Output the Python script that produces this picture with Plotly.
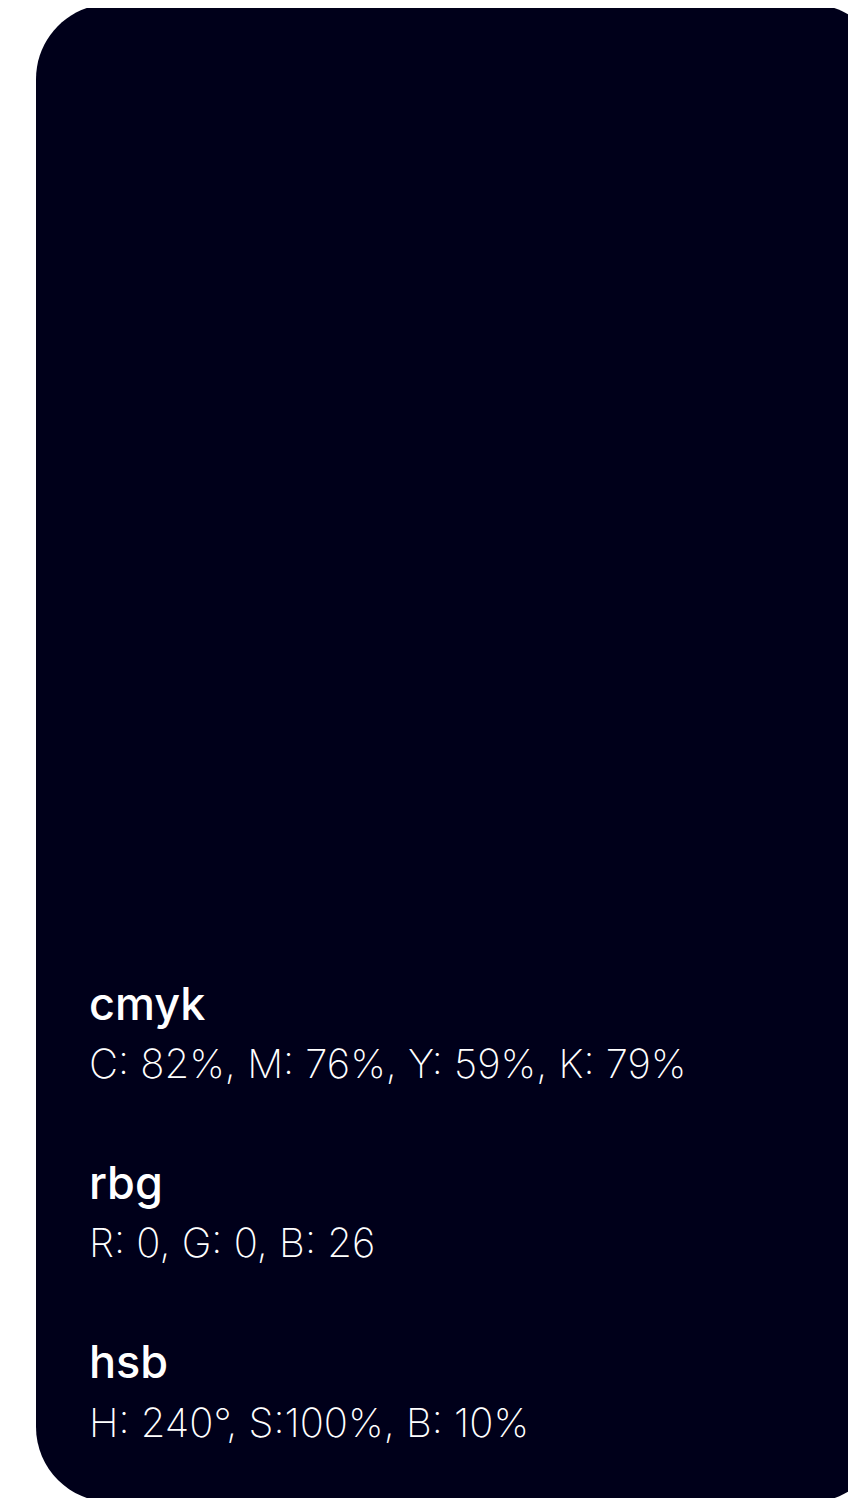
import plotly.graph_objects as go

# Swatch data
swatch_rgb = (0, 0, 26)
headings = ["cmyk", "rbg", "hsb"]
values = [
    "C: 82%, M: 76%, Y: 59%, K: 79%",
    "R: 0, G: 0, B: 26",
    "H: 240°, S:100%, B: 10%",
]

W, H = 856, 1498
OFF = 8  # page body margin compensation
card = dict(x0=36 - OFF, y0=4 - OFF, x1=885 - OFF, y1=1502 - OFF, r=75)
head_baselines = [1020 - OFF, 1199 - OFF, 1378 - OFF]
value_baselines = [1078 - OFF, 1257 - OFF, 1437 - OFF]
text_x = 87 - OFF
head_size = 45
value_size = 40

fig = go.Figure()

x0, y0, x1, y1, r = card["x0"], card["y0"], card["x1"], card["y1"], card["r"]
k = 0.5523 * r
path = (
    f"M {x0+r},{y0} L {x1-r},{y0} C {x1-r+k},{y0} {x1},{y0+r-k} {x1},{y0+r} "
    f"L {x1},{y1-r} C {x1},{y1-r+k} {x1-r+k},{y1} {x1-r},{y1} "
    f"L {x0+r},{y1} C {x0+r-k},{y1} {x0},{y1-r+k} {x0},{y1-r} "
    f"L {x0},{y0+r} C {x0},{y0+r-k} {x0+r-k},{y0} {x0+r},{y0} Z"
)
color = "rgb({},{},{})".format(*swatch_rgb)
fig.add_shape(type="path", path=path, xref="x", yref="y",
              fillcolor=color, line=dict(width=0), layer="below")

for hd, hb in zip(headings, head_baselines):
    fig.add_annotation(x=text_x, y=hb - 0.36 * head_size, xref="x", yref="y",
                       text=hd, showarrow=False, xanchor="left", yanchor="middle",
                       font=dict(family="Inter, Roboto, sans-serif", size=head_size,
                                 color="white", weight=500))
for vt, vb in zip(values, value_baselines):
    fig.add_annotation(x=text_x, y=vb - 0.36 * value_size, xref="x", yref="y",
                       text=vt, showarrow=False, xanchor="left", yanchor="middle",
                       font=dict(family="Inter, Roboto, sans-serif", size=value_size,
                                 color="white", weight=250))

fig.update_layout(
    width=W, height=H,
    margin=dict(l=0, r=0, t=0, b=0),
    paper_bgcolor="white", plot_bgcolor="white",
    xaxis=dict(range=[0, W], visible=False, fixedrange=True),
    yaxis=dict(range=[H, 0], visible=False, fixedrange=True),
    showlegend=False,
)
fig.write_html("out.html", config={"displayModeBar": False})
